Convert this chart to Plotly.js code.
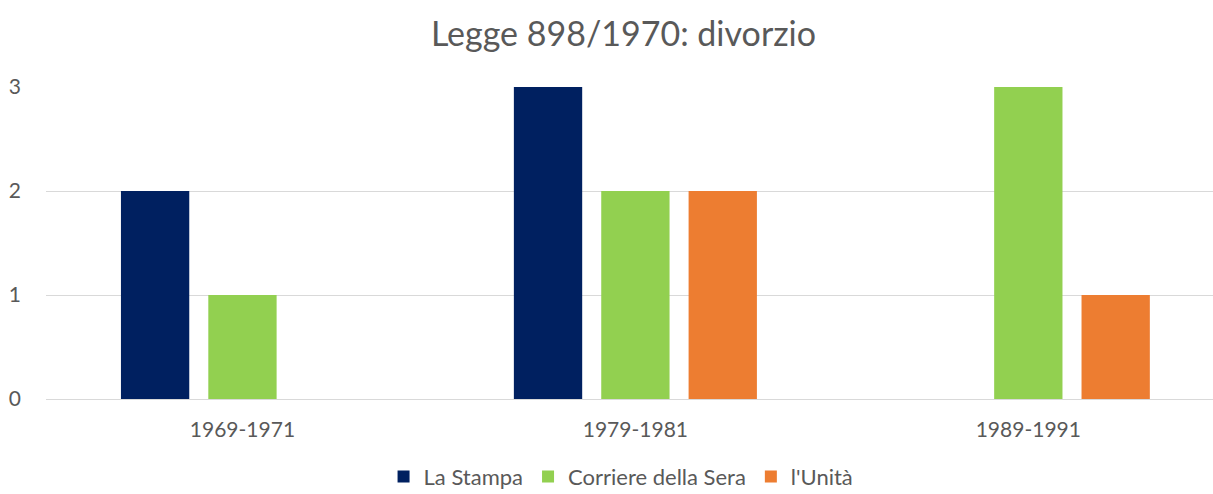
<!DOCTYPE html>
<html>
<head>
<meta charset="utf-8">
<script src="https://cdn.plot.ly/plotly-3.0.1.min.js"></script>
<style>html,body{margin:0;padding:0;background:#fff;}#chart{width:1213px;height:494px;}</style>
</head>
<body>
<div id="chart"></div>
<script>
const categories = ["1969-1971", "1979-1981", "1989-1991"];
const laStampa = [2, 3, 0];
const corriere = [1, 2, 3];
const unita = [0, 2, 1];
const seriesNames = ["La Stampa", "Corriere della Sera", "l'Unità"];
const seriesColors = ["#002060", "#92D050", "#ED7D31"];
const yTicks = [0, 1, 2, 3];

const font = "Lato, 'Open Sans', sans-serif";
const grey = "#595959";

const traces = [laStampa, corriere, unita].map((vals, i) => ({
  type: "bar",
  name: seriesNames[i],
  x: categories,
  y: vals,
  marker: {color: seriesColors[i]},
  hoverinfo: "skip"
}));

const layout = {
  width: 1213, height: 494,
  margin: {l: 46, r: 0, t: 87, b: 95},
  paper_bgcolor: "#fff", plot_bgcolor: "#fff",
  barmode: "group",
  bargap: 0.333,
  bargroupgap: 0.218,
  title: {text: "Legge 898/1970: divorzio", font: {family: font, size: 34, color: grey},
          x: 0.514, xref: "container", xanchor: "center", y: 0.93, yref: "container", yanchor: "middle"},
  xaxis: {type: "category", range: [-0.5, 2.47], showgrid: false, zeroline: false, showline: false,
          ticks: "", tickfont: {family: font, size: 21, color: grey}, ticklabelstandoff: 16, fixedrange: true},
  yaxis: {range: [0, 3], tickvals: yTicks, ticktext: yTicks.map(String), showgrid: true, gridcolor: "#D9D9D9", gridwidth: 1,
          zeroline: true, zerolinecolor: "#D9D9D9", zerolinewidth: 1, showline: false, ticks: "",
          tickfont: {family: font, size: 21, color: grey}, ticklabelstandoff: 24, fixedrange: true},
  showlegend: true,
  legend: {orientation: "h", x: 0.512, xref: "container", xanchor: "center", y: 0.035, yref: "container", yanchor: "middle",
           font: {family: font, size: 22, color: grey}, itemwidth: 30, traceorder: "normal",
           bgcolor: "rgba(0,0,0,0)"},
};

Plotly.newPlot("chart", traces, layout, {displayModeBar: false, staticPlot: true});
</script>
</body>
</html>
